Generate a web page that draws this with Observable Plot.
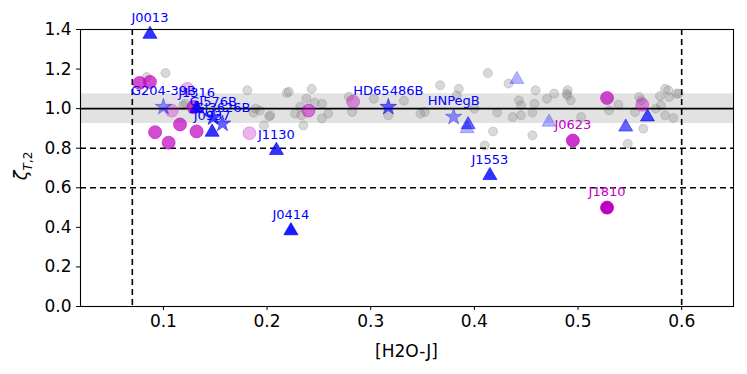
<!DOCTYPE html>
<html>
<head>
<meta charset="utf-8">
<script src="https://cdn.jsdelivr.net/npm/d3@7"></script>
<script src="https://cdn.jsdelivr.net/npm/@observablehq/plot@0.6"></script>
<style>
  html, body { margin: 0; padding: 0; background: white; }
  #chart svg { display: block; }
</style>
</head>
<body>
<div id="chart"></div>
<script>
// ---- data ----
const xTicks = [0.1, 0.2, 0.3, 0.4, 0.5, 0.6];
const yTicks = [0.0, 0.2, 0.4, 0.6, 0.8, 1.0, 1.2, 1.4];
const xLabel = "[H2O-J]";

const bandRange = [0.925, 1.075];
const solidY = [1.0];
const dashedY = [0.6, 0.8];
const dashedX = [0.07, 0.6];

// field / comparison objects (grey)
const grayX = [0.084,0.102,0.119,0.121,0.181,0.219,0.193,0.202,0.187,0.197,0.189,0.203,
  0.221,0.243,0.238,0.246,0.253,0.232,0.227,0.233,0.259,0.253,0.235,0.279,0.282,0.303,0.332,0.317,
  0.413,0.367,0.385,0.383,0.433,0.459,0.477,0.470,0.443,0.445,0.458,0.400,0.348,0.352,0.422,0.437,0.445,0.456,0.418,0.456,0.410,0.489,
  0.490,0.490,0.493,0.503,0.539,0.530,0.555,0.559,0.561,0.563,0.548,0.579,0.584,0.587,0.588,0.595,0.575,0.580,0.584,0.592,0.597];
const grayY = [1.16,1.18,1.017,1.025,1.093,1.08,0.99,0.96,0.98,0.915,1.0,0.966,
  1.085,1.10,1.05,1.03,1.025,1.01,0.975,0.966,0.975,0.95,0.915,1.06,0.983,1.05,1.04,0.966,
  1.18,1.118,1.10,1.067,1.127,1.093,1.076,1.05,1.042,1.017,1.025,1.0,0.975,0.983,0.98,0.958,0.966,0.98,0.885,0.865,0.814,1.076,
  1.093,1.067,1.042,0.958,1.02,0.991,0.983,1.059,1.042,0.899,0.823,1.064,1.10,1.093,1.059,1.076,1.0,1.017,0.966,0.953,1.076];

// magenta circles
const magX     = [0.077,0.087,0.092,0.105,0.116,0.132,0.123,0.108,0.129,0.183,0.240,0.283,0.528,0.562,0.495,0.528];
const magY     = [1.13,1.135,0.881,0.828,0.92,0.885,1.10,0.99,1.008,0.876,0.99,1.035,1.054,1.02,0.839,0.50];
const magAlpha = [0.7,0.7,0.7,0.7,0.7,0.7,0.3,0.3,0.7,0.3,0.5,0.4,0.7,0.4,0.8,1.0];
const magName  = ["","","","","","","","","","","","","","","J0623","J1810"];

// blue triangles
const triX     = [0.087,0.209,0.223,0.415,0.147,0.132,0.394,0.393,0.441,0.472,0.546,0.567];
const triY     = [1.376,0.789,0.383,0.662,0.881,1.0,0.919,0.899,1.148,0.932,0.907,0.958];
const triAlpha = [0.8,0.8,0.9,0.8,0.8,0.8,0.6,0.3,0.3,0.3,0.6,0.7];
const triName  = ["J0013","J1130","J0414","J1553","J0937","J1316","","","","","",""];

// blue stars
const starX     = [0.100,0.148,0.157,0.317,0.380];
const starY     = [1.008,0.955,0.924,1.008,0.958];
const starAlpha = [0.4,0.7,0.6,0.6,0.4];
const starName  = ["G204-39B","Gl576B","GJ3626B","HD65486B","HNPegB"];

// ---- build tables ----
const gray = grayX.map((x, i) => ({x, y: grayY[i]}));
const mags = magX.map((x, i) => ({x, y: magY[i], a: magAlpha[i], name: magName[i]}));
const tris = triX.map((x, i) => ({x, y: triY[i], a: triAlpha[i], name: triName[i]}));
const stars = starX.map((x, i) => ({x, y: starY[i], a: starAlpha[i], name: starName[i]}));
const band = [{y1: bandRange[0], y2: bandRange[1]}];

const MAG = "#bf00bf", BLUE = "#0000ff";

const chart = Plot.plot({
  width: 747,
  height: 374,
  marginLeft: 80,
  marginRight: 14,
  marginTop: 29,
  marginBottom: 68,
  style: {fontFamily: "DejaVu Sans", fontSize: "17px", background: "white", color: "black", overflow: "visible"},
  x: {domain: [0.02, 0.65]},
  y: {domain: [0, 1.4]},
  opacity: {type: "identity"},
  marks: [
    Plot.rect(band, {y1: "y1", y2: "y2", fill: "#e2e2e2"}),
    Plot.dot(gray, {x: "x", y: "y", r: 4.5, fill: "gray", fillOpacity: 0.3, stroke: "gray", strokeOpacity: 0.3, strokeWidth: 1}),
    Plot.ruleY(solidY, {stroke: "black", strokeWidth: 1.6}),
    Plot.ruleY(dashedY, {stroke: "black", strokeWidth: 1.6, strokeDasharray: "6,4"}),
    Plot.ruleX(dashedX, {stroke: "black", strokeWidth: 1.6, strokeDasharray: "6,4"}),
    Plot.dot(mags, {x: "x", y: "y", r: 6.5, fill: MAG, fillOpacity: "a", stroke: MAG, strokeOpacity: "a", strokeWidth: 0.8}),
    Plot.dot(stars, {x: "x", y: "y", r: 5.2, symbol: "star", fill: BLUE, fillOpacity: "a", stroke: BLUE, strokeOpacity: "a", strokeWidth: 0.8}),
    Plot.dot(tris, {x: "x", y: "y", r: 5.2, symbol: "triangle", fill: BLUE, fillOpacity: "a", stroke: BLUE, strokeOpacity: "a", strokeWidth: 0.8}),
    Plot.text(tris.filter(d => d.name), {x: "x", y: "y", text: "name", dy: -16, fill: BLUE, fontSize: 13}),
    Plot.text(stars.filter(d => d.name), {x: "x", y: "y", text: "name", dy: -16, fill: BLUE, fontSize: 13}),
    Plot.text(mags.filter(d => d.name), {x: "x", y: "y", text: "name", dy: -16, fill: MAG, fontSize: 13}),
    Plot.axisY({ticks: yTicks, tickFormat: d => d.toFixed(1), tickSize: 4, tickPadding: 5, label: null, fontSize: 17}),
    Plot.axisX({ticks: xTicks, tickFormat: d => d.toFixed(1), tickSize: 4, tickPadding: 4, label: null, fontSize: 17}),
    Plot.frame({stroke: "black", strokeWidth: 1.1})
  ]
});

document.getElementById("chart").appendChild(chart);

const svg = d3.select(chart);
// y label with subscript
const yl = svg.append("text")
  .attr("transform", "translate(27,166) rotate(-90)")
  .attr("text-anchor", "middle")
  .attr("font-family", "DejaVu Sans")
  .attr("font-size", 18)
  .attr("fill", "black");
yl.append("tspan").attr("font-style", "italic").text("ζ");
yl.append("tspan").attr("font-size", 12).attr("font-style", "italic").attr("dy", 5).text("T");
yl.append("tspan").attr("font-size", 12).text(",2");
// x label
svg.append("text")
  .attr("x", 406.5)
  .attr("y", 357)
  .attr("text-anchor", "middle")
  .attr("font-family", "DejaVu Sans")
  .attr("font-size", 17)
  .attr("fill", "black")
  .text(xLabel);
</script>
</body>
</html>
